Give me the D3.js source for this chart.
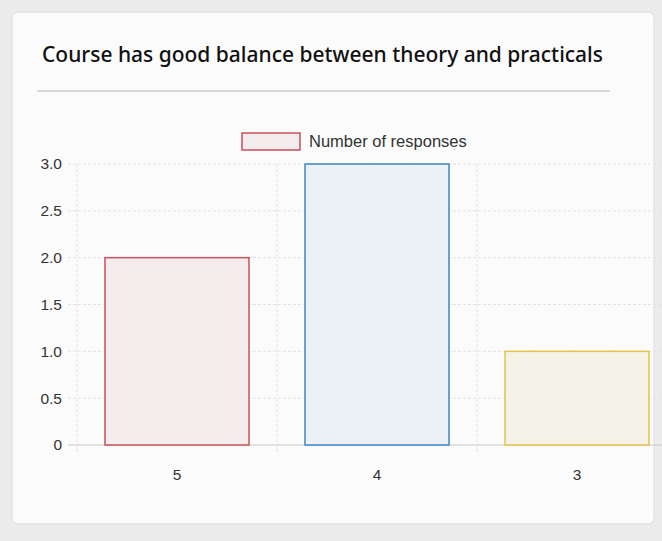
<!DOCTYPE html>
<meta charset="utf-8">
<style>
  body { margin: 0; background: #ececec; }
  svg { display: block; }
  .tick text { font-family: "Liberation Sans", Arial, sans-serif; font-size: 15.5px; fill: #333; }
</style>
<body>
<script src="https://d3js.org/d3.v7.min.js"></script>
<script>
  var W = 662, H = 541;

  // data
  var categories = ["5", "4", "3"];
  var responses = [2, 3, 1];
  var yTicks = [0, 0.5, 1, 1.5, 2, 2.5, 3];
  var seriesName = "Number of responses";
  var title = "Course has good balance between theory and practicals";

  var strokes = ["#c9505c", "#3f86c6", "#e6c24a"];
  var fills = ["#f4eded", "#ecf1f5", "#f5f2e8"];

  var svg = d3.select("body").append("svg").attr("width", W).attr("height", H);

  // card
  svg.append("rect").attr("x", 12).attr("y", 12).attr("width", 642).attr("height", 512)
    .attr("rx", 6).attr("fill", "#fbfbfb").attr("stroke", "#dcdcdc");

  svg.append("text").attr("x", 42).attr("y", 62)
    .attr("font-family", "Noto Sans, Open Sans, sans-serif").attr("font-size", 21)
    .attr("font-weight", 500).attr("textLength", 561).attr("lengthAdjust", "spacingAndGlyphs")
    .attr("fill", "#111").text(title);

  svg.append("line").attr("x1", 37).attr("x2", 610).attr("y1", 91).attr("y2", 91)
    .attr("stroke", "#b5b5b5").attr("stroke-width", 1);

  var pLeft = 77, pRight = 677, pTop = 164, pBottom = 445;

  var x = d3.scaleBand().domain(categories).range([pLeft, pRight]);
  var y = d3.scaleLinear().domain([0, 3]).range([pBottom, pTop]);

  // horizontal grid
  svg.append("g").selectAll("line").data(yTicks).enter().append("line")
    .attr("x1", pLeft - 9).attr("x2", pRight)
    .attr("y1", function(d) { return y(d); }).attr("y2", function(d) { return y(d); })
    .attr("stroke", function(d) { return d === 0 ? "#c8c8c8" : "#e2e2e2"; })
    .attr("stroke-dasharray", function(d) { return d === 0 ? null : "3,2"; });

  // vertical grid
  svg.append("g").selectAll("line").data(categories.concat(["end"])).enter().append("line")
    .attr("x1", function(d, i) { return pLeft + i * x.step(); })
    .attr("x2", function(d, i) { return pLeft + i * x.step(); })
    .attr("y1", pTop).attr("y2", pBottom + 9)
    .attr("stroke", "#e2e2e2").attr("stroke-dasharray", "3,2");

  // y axis
  var yAxis = svg.append("g").attr("transform", "translate(" + (pLeft - 12) + ",0)")
    .call(d3.axisLeft(y).tickValues(yTicks).tickSize(0).tickPadding(3)
      .tickFormat(function(d) { return d === 0 ? "0" : d3.format(".1f")(d); }));
  yAxis.select(".domain").remove();

  // x axis
  var xAxis = svg.append("g").attr("transform", "translate(0," + pBottom + ")")
    .call(d3.axisBottom(x).tickSize(0).tickPadding(24));
  xAxis.select(".domain").remove();

  // bars
  var bw = x.bandwidth() * 0.72;
  svg.append("g").selectAll("rect").data(responses).enter().append("rect")
    .attr("x", function(d, i) { return x(categories[i]) + (x.bandwidth() - bw) / 2; })
    .attr("y", function(d) { return y(d); })
    .attr("width", bw)
    .attr("height", function(d) { return pBottom - y(d); })
    .attr("fill", function(d, i) { return fills[i]; })
    .attr("stroke", function(d, i) { return strokes[i]; })
    .attr("stroke-width", 1.5);

  // legend
  var lg = svg.append("g").attr("transform", "translate(242,133)");
  lg.append("rect").attr("width", 58).attr("height", 17)
    .attr("fill", fills[0]).attr("stroke", strokes[0]).attr("stroke-width", 1.5);
  lg.append("text").attr("x", 67).attr("y", 14)
    .attr("font-family", "Liberation Sans, Arial, sans-serif").attr("font-size", 16.5)
    .attr("fill", "#333").text(seriesName);
</script>
</body>
